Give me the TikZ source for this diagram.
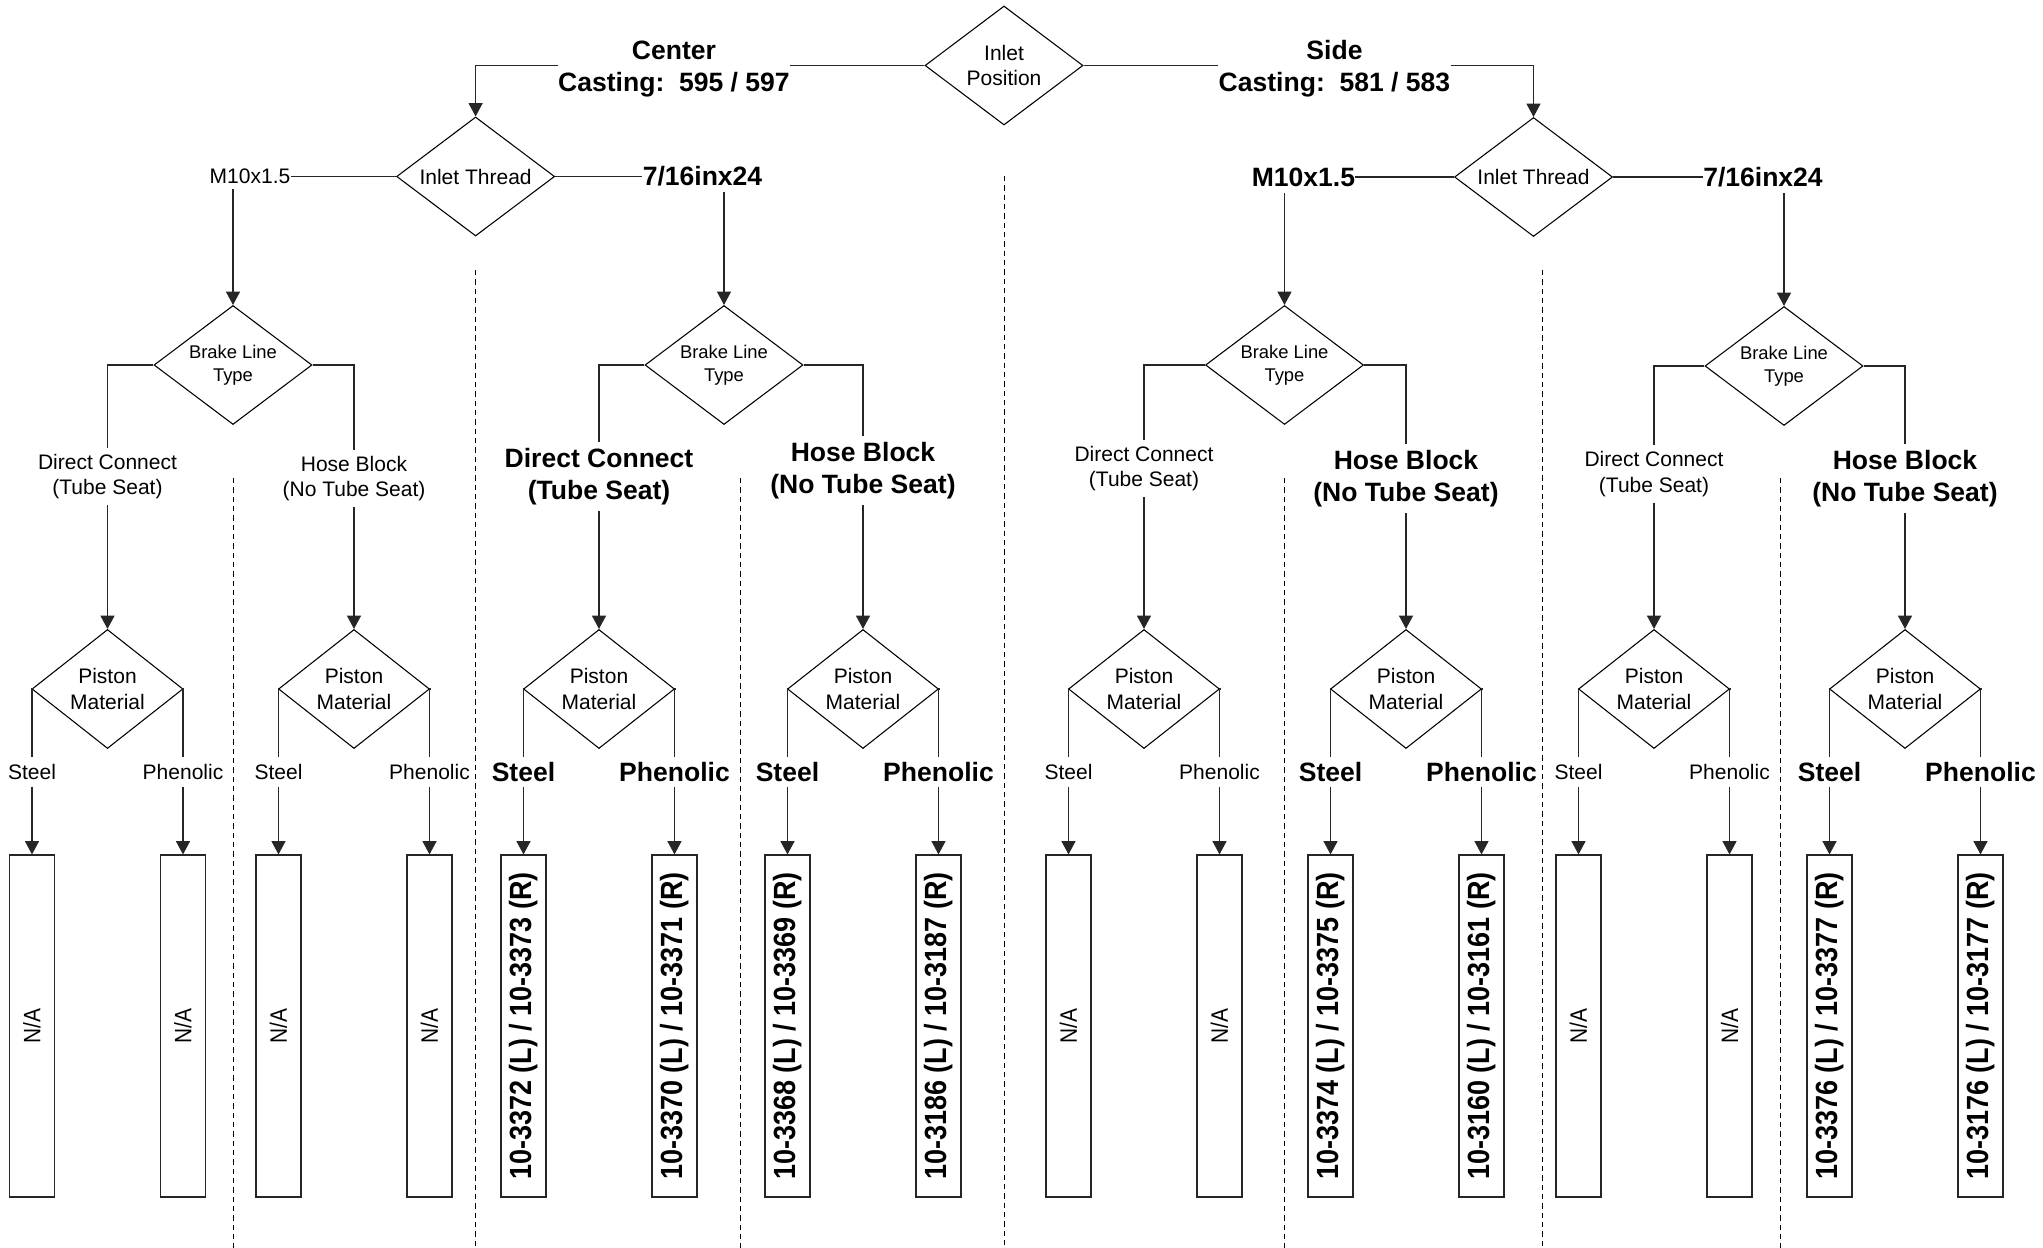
\documentclass[tikz,border=0pt]{standalone}
\usepackage{fontspec}
\setmainfont{Liberation Sans}
\usepackage{graphicx}
\usetikzlibrary{shapes.geometric,arrows.meta}
\newcommand\ftreg{\fontsize{15.75pt}{19pt}\selectfont}
\newcommand\ftbig{\fontsize{19.9pt}{24pt}\selectfont\bfseries}
\newcommand\ftsml{\fontsize{13.8pt}{17pt}\selectfont}
\newcommand\ftpn[1]{\rotatebox{90}{\scalebox{0.88}[1]{\fontsize{23pt}{27pt}\selectfont\bfseries #1}}}
\newcommand\ftna{\rotatebox{90}{\scalebox{0.88}[1]{\fontsize{17.8pt}{21pt}\selectfont N/A}}}
\begin{document}
\begin{tikzpicture}[x=0.75pt,y=-0.75pt,
 dia/.style={draw=black, line width=0.8pt, diamond, inner sep=0pt, minimum width=118.5pt, minimum height=89.25pt, aspect=1.33, align=center},
 pdia/.style={dia, minimum width=113.25pt, aspect=1.27, font=\ftreg},
 conn/.style={draw=black!85, line width=0.95pt},
 arr/.style={conn, -{Triangle[length=10pt,width=10.5pt]}},
 lbl/.style={inner xsep=0pt, inner ysep=4.5pt, align=center},
 rl/.style={lbl, font=\ftreg},
 bl/.style={lbl, font=\ftbig},
 pbox/.style={draw=black!85, line width=0.85pt, rectangle, minimum width=33.75pt, minimum height=256.5pt, inner sep=0pt},
 sep/.style={draw=black, line width=0.7pt, dash pattern=on 4pt off 3pt}]
\useasboundingbox (0,0) rectangle (2043,1248);

% separators
\draw[sep] (233,478) -- (233,1248);
\draw[sep] (475.6,270) -- (475.6,1248);
\draw[sep] (740,478) -- (740,1248);
\draw[sep] (1004,176) -- (1004,1248);
\draw[sep] (1284,478) -- (1284,1248);
\draw[sep] (1542,270) -- (1542,1248);
\draw[sep] (1780,478) -- (1780,1248);

% top level
\node[dia, font=\ftreg] (IP) at (1004,65.5) {Inlet\\Position};
\node[lbl, inner ysep=0pt, font=\ftbig] (CC) at (674,69) {Center\\Casting:\ \ 595 / 597};
\node[lbl, inner ysep=0pt, font=\ftbig] (SC) at (1334.5,69) {Side\\Casting:\ \ 581 / 583};
\node[dia, font=\ftreg] (IT1) at (475.6,176.5) {Inlet Thread};
\node[dia, font=\ftreg] (IT2) at (1533.5,177) {Inlet Thread};
\draw[conn] (IP.west) -- (CC.east |- IP.west);
\draw[arr] (CC.west |- IP.west) -| (IT1.north);
\draw[conn] (IP.east) -- (SC.west |- IP.east);
\draw[arr] (SC.east |- IP.east) -| (IT2.north);

% thread labels
\node[lbl, inner sep=0pt, font=\ftreg] (M1) at (250,176.5) {M10x1.5};
\node[lbl, inner sep=0pt, font=\ftbig] (T1) at (702.5,176.5) {7/16inx24};
\node[lbl, inner sep=0pt, font=\ftbig] (M2) at (1303.5,177) {M10x1.5};
\node[lbl, inner sep=0pt, font=\ftbig] (T2) at (1763,177) {7/16inx24};
\draw[conn] (M1.east) -- (IT1.west);
\draw[conn] (IT1.east) -- (T1.west);
\draw[conn] (M2.east) -- (IT2.west);
\draw[conn] (IT2.east) -- (T2.west);

% brake line diamonds
\node[dia, font=\ftsml] (BL1) at (233,365) {Brake Line\\Type};
\node[dia, font=\ftsml] (BL2) at (724,365) {Brake Line\\Type};
\node[dia, font=\ftsml] (BL3) at (1284.5,365) {Brake Line\\Type};
\node[dia, font=\ftsml] (BL4) at (1784,366) {Brake Line\\Type};
\coordinate (m1s) at (233,189);
\coordinate (t1s) at (724,192);
\coordinate (m2s) at (1284.5,193);
\coordinate (t2s) at (1784,193);
\draw[arr] (m1s) -- (BL1.north);
\draw[arr] (t1s) -- (BL2.north);
\draw[arr] (m2s) -- (BL3.north);
\draw[arr] (t2s) -- (BL4.north);

% brake line labels
\node[rl] (DC1) at (107.5,476.7) {Direct Connect\\(Tube Seat)};
\node[rl] (HB1) at (354,478.7) {Hose Block\\(No Tube Seat)};
\node[bl] (DC2) at (599,476.8) {Direct Connect\\(Tube Seat)};
\node[bl] (HB2) at (863,470.3) {Hose Block\\(No Tube Seat)};
\node[rl] (DC3) at (1144,468.7) {Direct Connect\\(Tube Seat)};
\node[bl] (HB3) at (1406,478.8) {Hose Block\\(No Tube Seat)};
\node[rl] (DC4) at (1654,474.2) {Direct Connect\\(Tube Seat)};
\node[bl] (HB4) at (1905,478.8) {Hose Block\\(No Tube Seat)};
\draw[conn] (BL1.west) -| (DC1.north);
\draw[conn] (BL1.east) -| (HB1.north);
\draw[conn] (BL2.west) -| (DC2.north);
\draw[conn] (BL2.east) -| (HB2.north);
\draw[conn] (BL3.west) -| (DC3.north);
\draw[conn] (BL3.east) -| (HB3.north);
\draw[conn] (BL4.west) -| (DC4.north);
\draw[conn] (BL4.east) -| (HB4.north);

% piston diamonds
\node[pdia] (P1) at (107.5,689) {Piston\\Material};
\node[pdia] (P2) at (354,689) {Piston\\Material};
\node[pdia] (P3) at (599,689) {Piston\\Material};
\node[pdia] (P4) at (863,689) {Piston\\Material};
\node[pdia] (P5) at (1144,689) {Piston\\Material};
\node[pdia] (P6) at (1406,689) {Piston\\Material};
\node[pdia] (P7) at (1654,689) {Piston\\Material};
\node[pdia] (P8) at (1905,689) {Piston\\Material};
\draw[arr] (DC1.south) -- (P1.north);
\draw[arr] (HB1.south) -- (P2.north);
\draw[arr] (DC2.south) -- (P3.north);
\draw[arr] (HB2.south) -- (P4.north);
\draw[arr] (DC3.south) -- (P5.north);
\draw[arr] (HB3.south) -- (P6.north);
\draw[arr] (DC4.south) -- (P7.north);
\draw[arr] (HB4.south) -- (P8.north);

% material labels
\node[rl, inner ysep=5pt] (S1) at (32,772) {Steel};
\node[rl, inner ysep=5pt] (F1) at (183,772) {Phenolic};
\node[rl, inner ysep=5pt] (S2) at (278.5,772) {Steel};
\node[rl, inner ysep=5pt] (F2) at (429.5,772) {Phenolic};
\node[bl, inner ysep=3.5pt] (S3) at (523.5,772) {Steel};
\node[bl, inner ysep=3.5pt] (F3) at (674.5,772) {Phenolic};
\node[bl, inner ysep=3.5pt] (S4) at (787.5,772) {Steel};
\node[bl, inner ysep=3.5pt] (F4) at (938.5,772) {Phenolic};
\node[rl, inner ysep=5pt] (S5) at (1068.5,772) {Steel};
\node[rl, inner ysep=5pt] (F5) at (1219.5,772) {Phenolic};
\node[bl, inner ysep=3.5pt] (S6) at (1330.5,772) {Steel};
\node[bl, inner ysep=3.5pt] (F6) at (1481.5,772) {Phenolic};
\node[rl, inner ysep=5pt] (S7) at (1578.5,772) {Steel};
\node[rl, inner ysep=5pt] (F7) at (1729.5,772) {Phenolic};
\node[bl, inner ysep=3.5pt] (S8) at (1829.5,772) {Steel};
\node[bl, inner ysep=3.5pt] (F8) at (1980.5,772) {Phenolic};
\foreach \i in {1,...,8}{
  \draw[conn] (P\i.west) -| (S\i.north);
  \draw[conn] (P\i.east) -| (F\i.north);
}

% result boxes
\node[pbox] (B1) at (32,1026) {\ftna};
\node[pbox] (C1) at (183,1026) {\ftna};
\node[pbox] (B2) at (278.5,1026) {\ftna};
\node[pbox] (C2) at (429.5,1026) {\ftna};
\node[pbox] (B3) at (523.5,1026) {\ftpn{10-3372 (L) / 10-3373 (R)}};
\node[pbox] (C3) at (674.5,1026) {\ftpn{10-3370 (L) / 10-3371 (R)}};
\node[pbox] (B4) at (787.5,1026) {\ftpn{10-3368 (L) / 10-3369 (R)}};
\node[pbox] (C4) at (938.5,1026) {\ftpn{10-3186 (L) / 10-3187 (R)}};
\node[pbox] (B5) at (1068.5,1026) {\ftna};
\node[pbox] (C5) at (1219.5,1026) {\ftna};
\node[pbox] (B6) at (1330.5,1026) {\ftpn{10-3374 (L) / 10-3375 (R)}};
\node[pbox] (C6) at (1481.5,1026) {\ftpn{10-3160 (L) / 10-3161 (R)}};
\node[pbox] (B7) at (1578.5,1026) {\ftna};
\node[pbox] (C7) at (1729.5,1026) {\ftna};
\node[pbox] (B8) at (1829.5,1026) {\ftpn{10-3376 (L) / 10-3377 (R)}};
\node[pbox] (C8) at (1980.5,1026) {\ftpn{10-3176 (L) / 10-3177 (R)}};
\foreach \i in {1,...,8}{
  \draw[arr] (S\i.south) -- (B\i.north);
  \draw[arr] (F\i.south) -- (C\i.north);
}
\end{tikzpicture}
\end{document}
